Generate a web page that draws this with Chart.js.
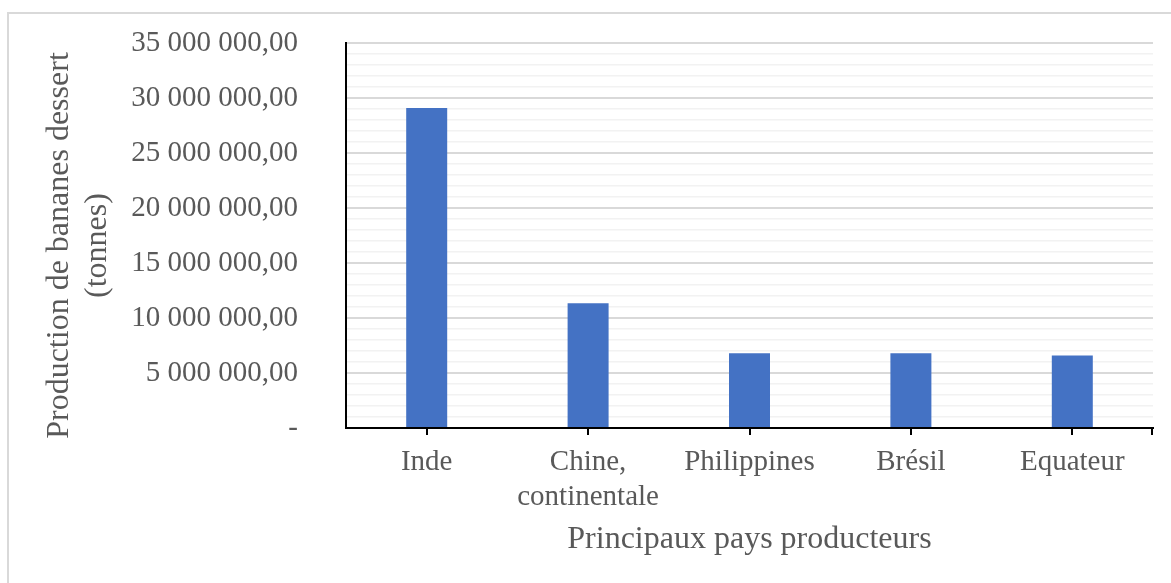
<!DOCTYPE html>
<html lang="fr">
<head>
<meta charset="utf-8">
<title>Production de bananes dessert</title>
<script src="https://cdn.jsdelivr.net/npm/chart.js@4/dist/chart.umd.min.js"></script>
<style>
  html, body { margin: 0; padding: 0; background: #fff; overflow: hidden; }
  #wrap { position: relative; width: 1171px; height: 583px; }
  #frame {
    position: absolute; left: 7px; top: 12px; width: 1200px; height: 620px;
    border: 2px solid #d9d9d9; pointer-events: none;
  }
</style>
</head>
<body>
<div id="wrap">
  <canvas id="chart" width="1171" height="583"></canvas>
  <div id="frame"></div>
</div>
<script>
// ====== Données ======
const pays = ['Inde', ['Chine,', 'continentale'], 'Philippines', 'Brésil', 'Equateur'];
const production = [29100000, 11350000, 6800000, 6800000, 6580000];
const yMax = 35000000;
const yPas = 1000000;     // lignes secondaires
const yPasMajeur = 5000000;
const titreY = ['Production de bananes dessert', '(tonnes)'];

const serif = 'Liberation Serif, "Times New Roman", serif';
const gris = '#595959';

// format Excel : 35 000 000,00 ; zéro -> "-"
function formatTonnes(v) {
  if (v === 0) return '-';
  return Math.round(v).toString().replace(/\B(?=(\d{3})+(?!\d))/g, ' ') + ',00';
}

// graduation en fin d'axe X + titre de l'axe Y (centré comme Excel)
const extras = {
  id: 'extras',
  afterDraw(chart) {
    const ctx = chart.ctx;
    const x = chart.scales.x;
    const y = chart.scales.y;
    ctx.save();
    ctx.strokeStyle = '#000';
    ctx.lineWidth = 2;
    ctx.beginPath();
    ctx.moveTo(x.right - 1, x.top);
    ctx.lineTo(x.right - 1, x.top + 7);
    ctx.stroke();

    ctx.fillStyle = gris;
    ctx.font = '32px ' + serif;
    ctx.textAlign = 'center';
    ctx.textBaseline = 'middle';
    const cy = (y.top + y.bottom) / 2 + 10;
    titreY.forEach((ligne, i) => {
      ctx.save();
      ctx.translate(y.left + 60 + i * 38, cy);
      ctx.rotate(-Math.PI / 2);
      ctx.fillText(ligne, 0, 0);
      ctx.restore();
    });
    ctx.restore();
  }
};

new Chart(document.getElementById('chart'), {
  type: 'bar',
  data: {
    labels: pays,
    datasets: [{
      data: production,
      backgroundColor: '#4472c4',
      borderWidth: 0,
      categoryPercentage: 1,
      barPercentage: 0.254
    }]
  },
  options: {
    responsive: false,
    animation: false,
    layout: { padding: { top: 43, right: 18, left: 0, bottom: 0 } },
    plugins: { legend: { display: false }, tooltip: { enabled: false } },
    scales: {
      x: {
        grid: {
          offset: false,
          drawOnChartArea: false,
          drawTicks: true,
          tickLength: 7,
          color: '#000',
          lineWidth: 2
        },
        border: { color: '#000', width: 2 },
        ticks: {
          color: gris,
          font: { family: serif, size: 29 },
          padding: 10,
          maxRotation: 0,
          autoSkip: false
        },
        title: {
          display: true,
          text: 'Principaux pays producteurs',
          color: gris,
          font: { family: serif, size: 32 },
          padding: { top: 0, bottom: 24 }
        },
        afterFit(scale) { scale.height = 155; }
      },
      y: {
        min: 0,
        max: yMax,
        grid: {
          drawTicks: false,
          color: (c) => (c.tick && c.tick.value % yPasMajeur === 0) ? '#d9d9d9' : '#f2f2f2',
          lineWidth: (c) => (c.tick && c.tick.value % yPasMajeur === 0) ? 2 : 1.5
        },
        border: { color: '#000', width: 2 },
        ticks: {
          stepSize: yPas,
          autoSkip: false,
          color: gris,
          font: { family: serif, size: 29 },
          padding: 48,
          callback: (v) => (v % yPasMajeur === 0) ? formatTonnes(v) : ''
        },
        title: { display: false },
        afterFit(scale) {
          scale.width = 346;
          // le padding des étiquettes ne doit pas repousser le haut du graphique
          scale.paddingTop = 18;
          scale.paddingBottom = 18;
        }
      }
    }
  },
  plugins: [extras]
});
</script>
</body>
</html>
